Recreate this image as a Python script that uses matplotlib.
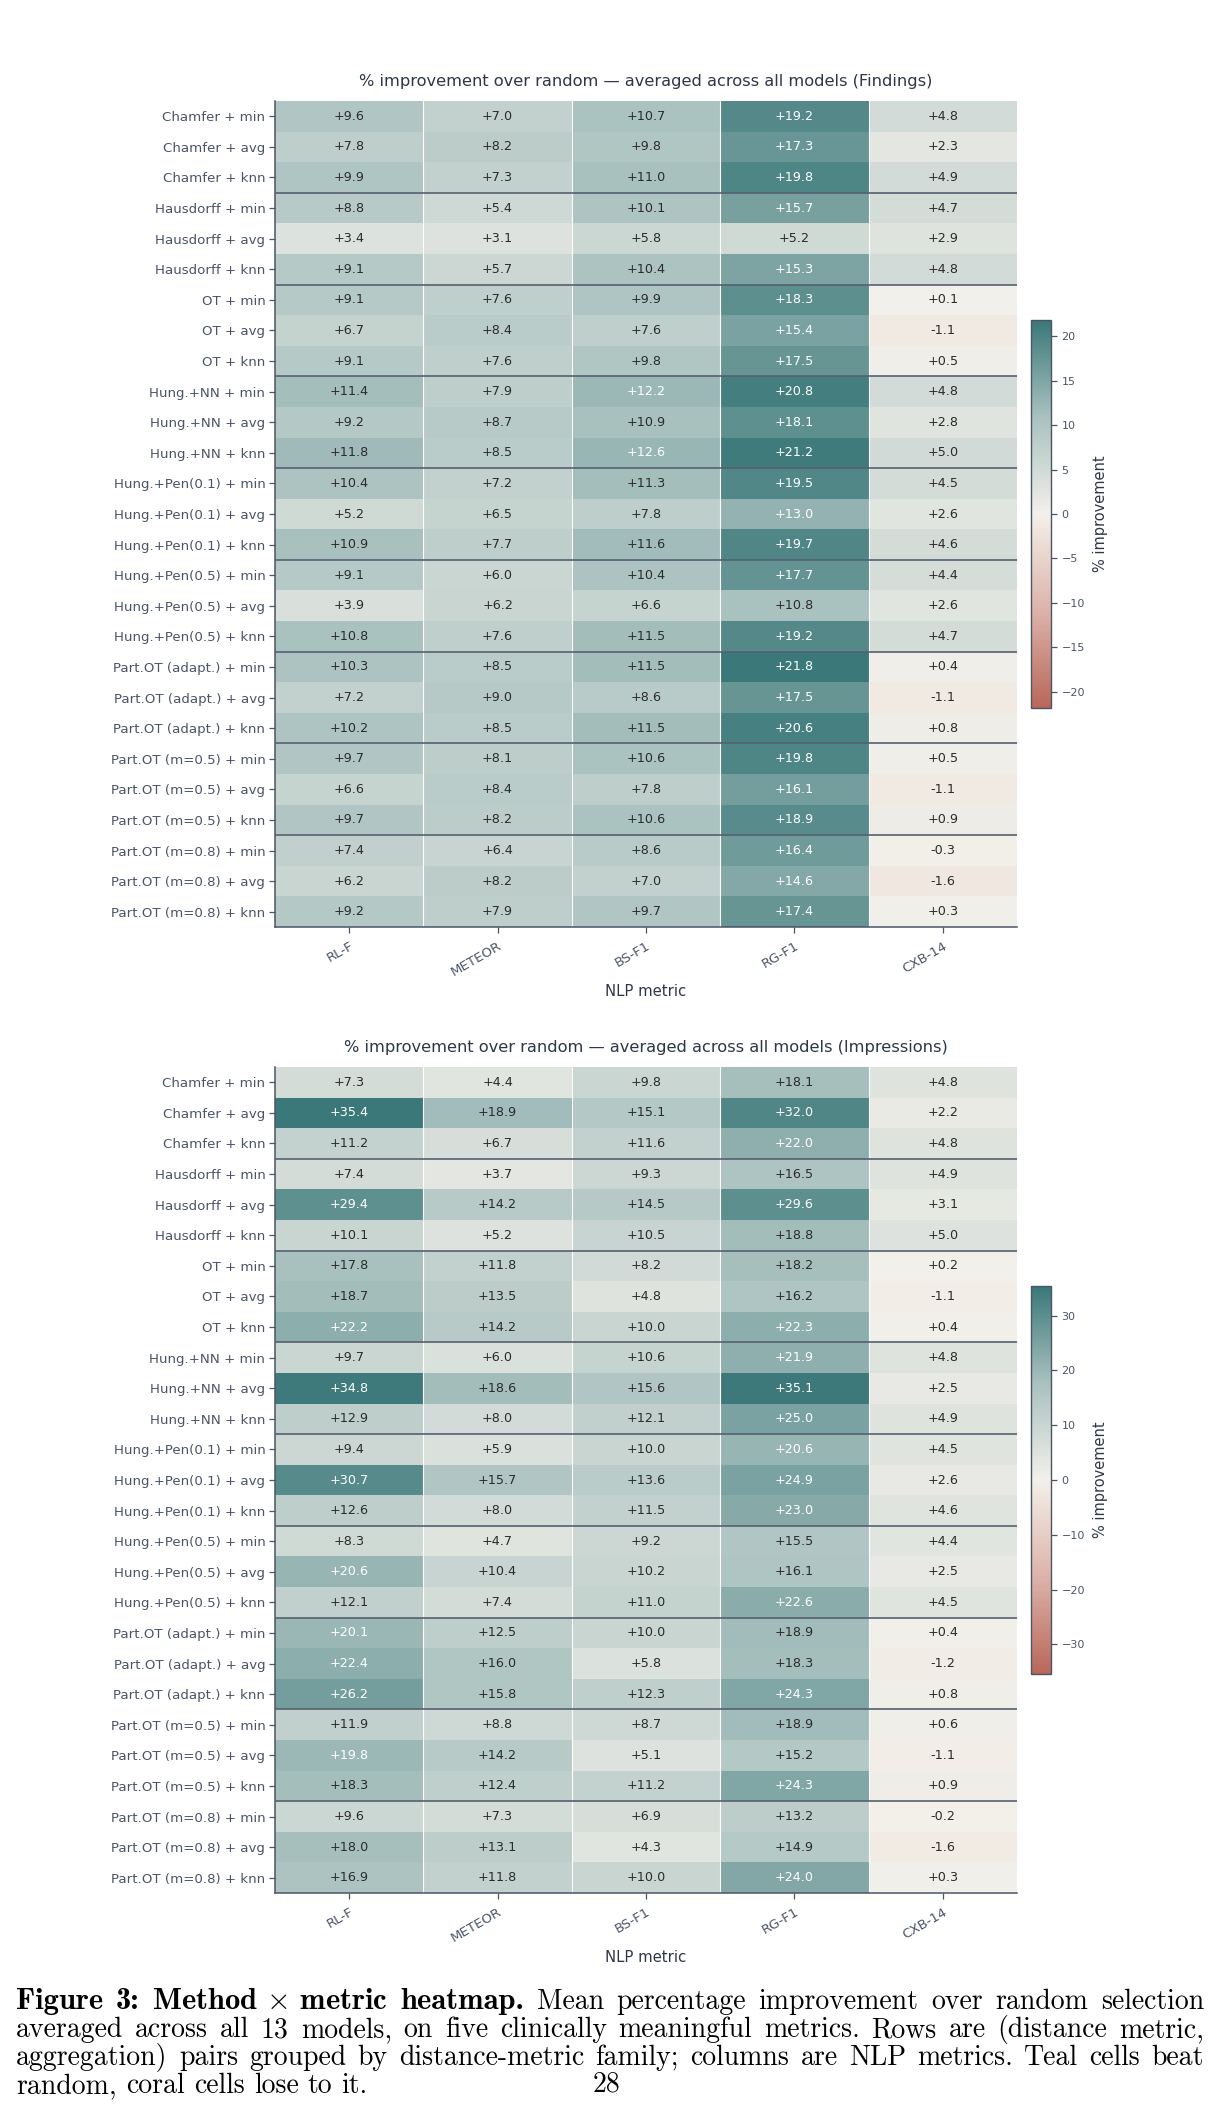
import numpy as np
import matplotlib
matplotlib.use("Agg")
import matplotlib.pyplot as plt
from matplotlib.colors import LinearSegmentedColormap

# ---------------- data ----------------
methods = [
    "Chamfer + min", "Chamfer + avg", "Chamfer + knn",
    "Hausdorff + min", "Hausdorff + avg", "Hausdorff + knn",
    "OT + min", "OT + avg", "OT + knn",
    "Hung.+NN + min", "Hung.+NN + avg", "Hung.+NN + knn",
    "Hung.+Pen(0.1) + min", "Hung.+Pen(0.1) + avg", "Hung.+Pen(0.1) + knn",
    "Hung.+Pen(0.5) + min", "Hung.+Pen(0.5) + avg", "Hung.+Pen(0.5) + knn",
    "Part.OT (adapt.) + min", "Part.OT (adapt.) + avg", "Part.OT (adapt.) + knn",
    "Part.OT (m=0.5) + min", "Part.OT (m=0.5) + avg", "Part.OT (m=0.5) + knn",
    "Part.OT (m=0.8) + min", "Part.OT (m=0.8) + avg", "Part.OT (m=0.8) + knn",
]
metrics = ["RL-F", "METEOR", "BS-F1", "RG-F1", "CXB-14"]

# Findings
find_rlf = [9.6, 7.8, 9.9, 8.8, 3.4, 9.1, 9.1, 6.7, 9.1, 11.4, 9.2, 11.8, 10.4, 5.2, 10.9,
            9.1, 3.9, 10.8, 10.3, 7.2, 10.2, 9.7, 6.6, 9.7, 7.4, 6.2, 9.2]
find_meteor = [7.0, 8.2, 7.3, 5.4, 3.1, 5.7, 7.6, 8.4, 7.6, 7.9, 8.7, 8.5, 7.2, 6.5, 7.7,
               6.0, 6.2, 7.6, 8.5, 9.0, 8.5, 8.1, 8.4, 8.2, 6.4, 8.2, 7.9]
find_bsf1 = [10.7, 9.8, 11.0, 10.1, 5.8, 10.4, 9.9, 7.6, 9.8, 12.2, 10.9, 12.6, 11.3, 7.8, 11.6,
             10.4, 6.6, 11.5, 11.5, 8.6, 11.5, 10.6, 7.8, 10.6, 8.6, 7.0, 9.7]
find_rgf1 = [19.2, 17.3, 19.8, 15.7, 5.2, 15.3, 18.3, 15.4, 17.5, 20.8, 18.1, 21.2, 19.5, 13.0, 19.7,
             17.7, 10.8, 19.2, 21.8, 17.5, 20.6, 19.8, 16.1, 18.9, 16.4, 14.6, 17.4]
find_cxb = [4.8, 2.3, 4.9, 4.7, 2.9, 4.8, 0.1, -1.1, 0.5, 4.8, 2.8, 5.0, 4.5, 2.6, 4.6,
            4.4, 2.6, 4.7, 0.4, -1.1, 0.8, 0.5, -1.1, 0.9, -0.3, -1.6, 0.3]

# Impressions
imp_rlf = [7.3, 35.4, 11.2, 7.4, 29.4, 10.1, 17.8, 18.7, 22.2, 9.7, 34.8, 12.9, 9.4, 30.7, 12.6,
           8.3, 20.6, 12.1, 20.1, 22.4, 26.2, 11.9, 19.8, 18.3, 9.6, 18.0, 16.9]
imp_meteor = [4.4, 18.9, 6.7, 3.7, 14.2, 5.2, 11.8, 13.5, 14.2, 6.0, 18.6, 8.0, 5.9, 15.7, 8.0,
              4.7, 10.4, 7.4, 12.5, 16.0, 15.8, 8.8, 14.2, 12.4, 7.3, 13.1, 11.8]
imp_bsf1 = [9.8, 15.1, 11.6, 9.3, 14.5, 10.5, 8.2, 4.8, 10.0, 10.6, 15.6, 12.1, 10.0, 13.6, 11.5,
            9.2, 10.2, 11.0, 10.0, 5.8, 12.3, 8.7, 5.1, 11.2, 6.9, 4.3, 10.0]
imp_rgf1 = [18.1, 32.0, 22.0, 16.5, 29.6, 18.8, 18.2, 16.2, 22.3, 21.9, 35.1, 25.0, 20.6, 24.9, 23.0,
            15.5, 16.1, 22.6, 18.9, 18.3, 24.3, 18.9, 15.2, 24.3, 13.2, 14.9, 24.0]
imp_cxb = [4.8, 2.2, 4.8, 4.9, 3.1, 5.0, 0.2, -1.1, 0.4, 4.8, 2.5, 4.9, 4.5, 2.6, 4.6,
           4.4, 2.5, 4.5, 0.4, -1.2, 0.8, 0.6, -1.1, 0.9, -0.2, -1.6, 0.3]

titles = ["% improvement over random \u2014 averaged across all models (Findings)",
          "% improvement over random \u2014 averaged across all models (Impressions)"]

# ---------------- style ----------------
W, H, DPI = 1222, 2122, 100
SLATE = "#4a5568"
SEP = "#566070"
DARK = "#2d3748"
cmap = LinearSegmentedColormap.from_list(
    "coral_teal", ["#b9675a", "#dcb3aa", "#f3f0ea", "#a9c1bf", "#3b7879"])

fig = plt.figure(figsize=(W / DPI, H / DPI), dpi=DPI)
fig.patch.set_facecolor("white")


def px_axes(x0, y0, x1, y1):
    return fig.add_axes([x0 / W, 1 - y1 / H, (x1 - x0) / W, (y1 - y0) / H])


def draw_panel(ax, cax, cols, title, cticks):
    data = np.array(cols).T
    nr, nc = data.shape
    vmax = np.abs(data).max()
    mesh = ax.pcolormesh(np.arange(nc + 1), np.arange(nr + 1), data, cmap=cmap,
                         vmin=-vmax, vmax=vmax, shading="flat", antialiased=False,
                         linewidth=0)
    ax.set_xlim(0, nc)
    ax.set_ylim(nr, 0)
    for j in range(1, nc):
        ax.axvline(j, color="white", lw=0.8, zorder=2)
    for i in range(3, nr, 3):
        ax.axhline(i, color=SEP, lw=1.2, zorder=3)
    for i in range(nr):
        for j in range(nc):
            v = data[i, j]
            c = "white" if abs(v) > 0.55 * vmax else "#2b2b2b"
            ax.text(j + 0.5, i + 0.5, f"{v:+.1f}", ha="center", va="center",
                    fontsize=9.2, color=c, zorder=4)
    ax.set_xticks(np.arange(nc) + 0.5)
    ax.set_xticklabels(metrics, rotation=30, ha="right", rotation_mode="anchor")
    ax.set_yticks(np.arange(nr) + 0.5)
    ax.set_yticklabels(methods)
    ax.tick_params(axis="both", colors=SLATE, labelcolor=SLATE, labelsize=9.6,
                   length=4, width=0.9)
    ax.tick_params(axis="x", pad=5)
    ax.tick_params(axis="y", pad=3)
    for s in ["top", "right"]:
        ax.spines[s].set_visible(False)
    for s in ["left", "bottom"]:
        ax.spines[s].set_color(SLATE)
        ax.spines[s].set_linewidth(1.1)
    ax.set_title(title, fontsize=11.7, color=DARK, pad=11)
    ax.set_xlabel("NLP metric", fontsize=10.7, color=DARK, labelpad=4)

    cb = fig.colorbar(mesh, cax=cax)
    cb.set_ticks(cticks)
    cb.outline.set_edgecolor(SLATE)
    cb.outline.set_linewidth(1.0)
    cax.tick_params(colors=SLATE, labelcolor=SLATE, labelsize=8, length=4, width=0.9)
    cb.set_label("% improvement", fontsize=10.5, color=DARK, labelpad=6)


ax1 = px_axes(275, 101, 1017, 927)
cax1 = px_axes(1031, 320, 1051, 708)
draw_panel(ax1, cax1, [find_rlf, find_meteor, find_bsf1, find_rgf1, find_cxb],
           titles[0], np.arange(-20, 21, 5))

ax2 = px_axes(275, 1067, 1017, 1893)
cax2 = px_axes(1031, 1286, 1051, 1674)
draw_panel(ax2, cax2, [imp_rlf, imp_meteor, imp_bsf1, imp_rgf1, imp_cxb],
           titles[1], np.arange(-30, 31, 10))

# ---------------- caption (justified, word by word) ----------------
B, R = "cmb10", "cmr10"
CAP_FS = 20.0
BOLD_FS = 22.0
caption_lines = [
    ([("Figure", B), ("3:", B), (r"Method$\,\times\,$metric", B), ("heatmap.", B)]
     + [(w, R) for w in "Mean percentage improvement over random selection".split()], True),
    ([(w, R) for w in "averaged across all 13 models, on five clinically meaningful metrics. Rows are (distance metric,".split()], True),
    ([(w, R) for w in "aggregation) pairs grouped by distance-metric family; columns are NLP metrics. Teal cells beat".split()], True),
    ([(w, R) for w in "random, coral cells lose to it.".split()], False),
]
baselines = [2009, 2037, 2065, 2093]
x_left, x_right = 16, 1204

plt.rcParams["mathtext.fontset"] = "cm"
renderer = fig.canvas.get_renderer()
for (tokens, justify), yb in zip(caption_lines, baselines):
    texts = []
    for word, fam in tokens:
        fs = BOLD_FS if fam == B else CAP_FS
        t = fig.text(0, 1 - yb / H, word, family=fam, fontsize=fs,
                     ha="left", va="baseline", color="black")
        texts.append(t)
    widths = [t.get_window_extent(renderer).width for t in texts]
    if justify and len(texts) > 1:
        gap = (x_right - x_left - sum(widths)) / (len(texts) - 1)
    else:
        gap = 0.333 * CAP_FS * DPI / 72
    x = x_left
    for t, w in zip(texts, widths):
        t.set_x(x / W)
        x += w + gap

fig.text(607 / W, 1 - 2091 / H, "28", family=R, fontsize=CAP_FS, ha="center",
         va="baseline", color="black")

fig.savefig("out.png", dpi=DPI, facecolor="white")
